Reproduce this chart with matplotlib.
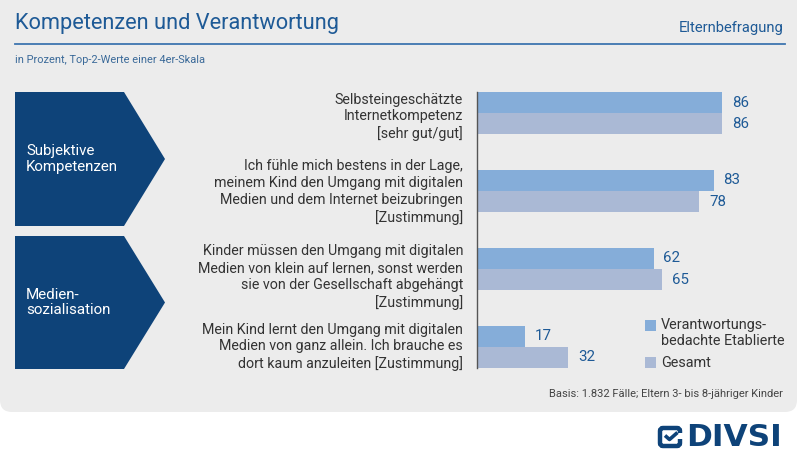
import matplotlib
matplotlib.use("Agg")
import matplotlib.pyplot as plt
from matplotlib.patches import FancyBboxPatch, Polygon, Rectangle
import numpy as np

plt.rcParams['font.family'] = ['Roboto', 'DejaVu Sans']

# ---------------- data ----------------
categories = [
    "Selbsteingeschätzte\nInternetkompetenz\n[sehr gut/gut]",
    "Ich fühle mich bestens in der Lage,\nmeinem Kind den Umgang mit digitalen\nMedien und dem Internet beizubringen\n[Zustimmung]",
    "Kinder müssen den Umgang mit digitalen\nMedien von klein auf lernen, sonst werden\nsie von der Gesellschaft abgehängt\n[Zustimmung]",
    "Mein Kind lernt den Umgang mit digitalen\nMedien von ganz allein. Ich brauche es\ndort kaum anzuleiten [Zustimmung]",
]
series_names = ["Verantwortungs-\nbedachte Etablierte", "Gesamt"]
etablierte = [86, 83, 62, 17]
gesamt = [86, 78, 65, 32]
section_labels = ["Subjektive\nKompetenzen", "Medien-\nsozialisation"]

title = "Kompetenzen und Verantwortung"
subtitle = "in Prozent, Top-2-Werte einer 4er-Skala"
source_tag = "Elternbefragung"
footnote = "Basis: 1.832 Fälle; Eltern 3- bis 8-jähriger Kinder"

# ---------------- styles ----------------
W, H = 800, 463
C_BAR1 = "#85ADD9"
C_BAR2 = "#AAB9D5"
C_DARK = "#0E4379"
C_TITLE = "#1E5A96"
C_VAL = "#1E5A96"
C_TEXT = "#333333"
C_PANEL = "#ECECEC"

fig = plt.figure(figsize=(W / 100, H / 100), dpi=100)
fig.patch.set_facecolor("white")

# overlay axes in pixel coordinates for decorations
ov = fig.add_axes([0, 0, 1, 1], zorder=0)
ov.set_xlim(0, W)
ov.set_ylim(H, 0)
ov.axis("off")

ov.add_patch(FancyBboxPatch((0, -20), 797, 432, boxstyle="round,pad=0,rounding_size=12",
                            fc=C_PANEL, ec="none"))

ov.text(15, 23, title, fontsize=15.7, color=C_TITLE, va="center", ha="left")
ov.text(784, 28, source_tag, fontsize=10.6, color=C_TITLE, va="center", ha="right")
ov.plot([15, 785], [43.5, 43.5], color="#3D75B0", lw=1.3)
ov.text(15, 60, subtitle, fontsize=7.9, color="#3B6A99", va="center", ha="left")

# chevrons
chev = [(92, 226), (236, 369)]
for (top, bot), lab in zip(chev, section_labels):
    mid = (top + bot) / 2
    ov.add_patch(Polygon([[15, top], [124, top], [165, mid], [124, bot], [15, bot]],
                         closed=True, fc=C_DARK, ec="none"))
    ov.text(26, mid, lab, color="white", fontsize=10.9, va="center", ha="left", linespacing=1.18)

# footnote
ov.text(783, 394, footnote, fontsize=8.0, color="#444444", va="center", ha="right")

# legend (manual)
ov.add_patch(Rectangle((645, 320), 11, 11, fc=C_BAR1, ec="none"))
ov.text(661, 318, series_names[0], fontsize=10.4, color=C_TEXT, va="top", ha="left",
        linespacing=1.2)
ov.add_patch(Rectangle((645, 357), 11, 11, fc=C_BAR2, ec="none"))
ov.text(661, 363, series_names[1], fontsize=10.4, color=C_TEXT, va="center", ha="left")

# logo
ov.add_patch(FancyBboxPatch((660, 428), 20, 18, boxstyle="round,pad=0,rounding_size=3",
                            fc="none", ec=C_DARK, lw=3.2))
ov.add_patch(Rectangle((677, 433), 6, 6, fc="white", ec="none"))
ov.add_patch(Rectangle((678.5, 439), 3.5, 3.5, fc=C_DARK, ec="none"))
ov.plot([665, 669.5, 677.5], [435.5, 439.5, 432.5], color=C_DARK, lw=2.6, solid_capstyle="butt")
ov.text(686, 438, "DIVSI", fontsize=22.5, fontweight="bold", color=C_DARK, va="center", ha="left",
        family="DejaVu Sans")

# ---------------- bar chart ----------------
ax_left, ax_top, ax_bot = 477, 92, 368
xmax = 100
ax_w = 2.85 * xmax
ax = fig.add_axes([ax_left / W, (H - ax_bot) / H, ax_w / W, (ax_bot - ax_top) / H], zorder=1)
ax.patch.set_alpha(0)
y = np.arange(len(categories))
bh = 0.27
ax.barh(y - bh / 2, etablierte, height=bh, color=C_BAR1, edgecolor="none")
ax.barh(y + bh / 2, gesamt, height=bh, color=C_BAR2, edgecolor="none")
ax.set_xlim(0, xmax)
ax.set_ylim(len(categories) - 1 + bh, -bh)
for s in ["top", "right", "bottom"]:
    ax.spines[s].set_visible(False)
ax.spines["left"].set_color("#555555")
ax.spines["left"].set_linewidth(1.0)
ax.set_xticks([])
ax.set_yticks([])

for yi, v1, v2 in zip(y, etablierte, gesamt):
    ax.annotate(str(v1), (v1, yi - bh / 2), xytext=(7, 0), textcoords="offset points",
                va="center", ha="left", fontsize=10.8, color=C_VAL)
    ax.annotate(str(v2), (v2, yi + bh / 2), xytext=(7, 0), textcoords="offset points",
                va="center", ha="left", fontsize=10.8, color=C_VAL)

label_offsets = [4, 1, 8, 0]  # pixel shifts downward
for yi, cat, off in zip(y, categories, label_offsets):
    ax.annotate(cat, (0, yi), xytext=(-10, -off * 0.72), textcoords="offset points",
                va="center", ha="right", fontsize=10.3, color=C_TEXT, linespacing=1.25,
                annotation_clip=False)

fig.savefig("out.png", dpi=100, facecolor="white")
